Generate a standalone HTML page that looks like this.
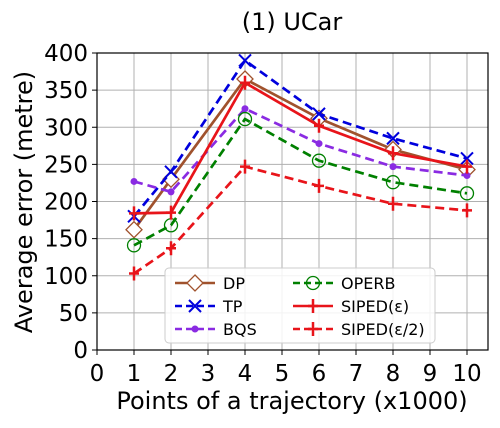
<!DOCTYPE html>
<html><head><meta charset="utf-8"><style>
body{margin:0;background:#fff;}
svg{font-family:"DejaVu Sans","Liberation Sans",sans-serif;}
</style></head><body>
<svg width="500" height="423" xmlns="http://www.w3.org/2000/svg">
<text x="292" y="30" font-size="24" text-anchor="middle">(1) UCar</text>
<g id="grid"></g>
<g id="series"></g>
<rect x="97" y="53" width="391" height="297" fill="none" stroke="#000" stroke-width="1.2"/>
<g id="ticks"></g>
<text x="292" y="409" font-size="24" text-anchor="middle">Points of a trajectory (x1000)</text>
<text transform="translate(32,202) rotate(-90)" font-size="24" text-anchor="middle">Average error (metre)</text>
<g id="legend">
<rect x="165" y="268" width="270" height="75" rx="4" fill="#fff" fill-opacity="0.85" stroke="#ccc"/>
</g>
</svg>
<script>
const xCats=[1,2,4,6,8,10];
const seriesNames=["DP","TP","BQS","OPERB","SIPED(\u03b5)","SIPED(\u03b5/2)"];
const dpVals=[162,230,365,312,270,243];
const tpVals=[180,240,390,318,285,258];
const bqsVals=[227,213,325,278,247,235];
const operbVals=[141,168,311,255,226,211];
const sipedVals=[184,185,360,302,265,247];
const siped2Vals=[103,137,247,221,197,188];
const xTicks=[0,1,2,3,4,5,6,7,8,9,10];
const yTicks=[0,50,100,150,200,250,300,350,400];
const NS="http://www.w3.org/2000/svg";
const X=v=>97+v*37, Y=v=>350-v*0.7425;
function mk(tag,at,parent){const e=document.createElementNS(NS,tag);for(const k in at)e.setAttribute(k,at[k]);parent.appendChild(e);return e;}
const grid=document.getElementById('grid'),ticks=document.getElementById('ticks'),ser=document.getElementById('series'),leg=document.getElementById('legend');
xTicks.forEach(t=>{
 const l=mk('line',{x1:X(t),x2:X(t),y1:53,y2:350,stroke:'#b0b0b0','stroke-width':1},grid);
 
 
 mk('line',{x1:X(t),x2:X(t),y1:350,y2:355,stroke:'#000'},ticks);
 const tx=mk('text',{x:X(t),y:381,'font-size':23,'text-anchor':'middle'},ticks);tx.textContent=t;
 
 
});
yTicks.forEach(t=>{
 const l=mk('line',{x1:97,x2:488,y1:Y(t),y2:Y(t),stroke:'#b0b0b0','stroke-width':1},grid);
 
 
 mk('line',{x1:92,x2:97,y1:Y(t),y2:Y(t),stroke:'#000'},ticks);
 const tx=mk('text',{x:88,y:Y(t)+8,'font-size':23,'text-anchor':'end'},ticks);tx.textContent=t;
 
 
});
const styles=[
 {c:'#a0522d',d:'',m:'diamond'},
 {c:'#0000dd',d:'9,5',m:'x'},
 {c:'#8a2be2',d:'9,5',m:'dot'},
 {c:'#008000',d:'9,5',m:'circle'},
 {c:'#e8141a',d:'',m:'plus'},
 {c:'#e8141a',d:'9,5',m:'plus'}];
function marker(m,x,y,c,p){
 if(m==='diamond')mk('path',{d:`M${x} ${y-8}L${x+8} ${y}L${x} ${y+8}L${x-8} ${y}Z`,fill:'#fff',stroke:c,'stroke-width':1.3},p);
 else if(m==='x')mk('path',{d:`M${x-6} ${y-6}L${x+6} ${y+6}M${x-6} ${y+6}L${x+6} ${y-6}`,stroke:c,'stroke-width':2},p);
 else if(m==='dot')mk('circle',{cx:x,cy:y,r:3.5,fill:c},p);
 else if(m==='circle')mk('circle',{cx:x,cy:y,r:6.5,fill:'none',stroke:c,'stroke-width':1.3},p);
 else mk('path',{d:`M${x-5} ${y}L${x+5} ${y}M${x} ${y-7}L${x} ${y+7}`,stroke:c,'stroke-width':2.5},p);
}
[dpVals,tpVals,bqsVals,operbVals,sipedVals,siped2Vals].forEach((vals,i)=>{
 const s=styles[i];
 const g=mk('g',{},ser);
 
 
 const pts=vals.map((v,j)=>X(xCats[j])+','+Y(v)).join(' ');
 mk('polyline',{points:pts,fill:'none',stroke:s.c,'stroke-width':2.7,'stroke-dasharray':s.d},g);
 vals.forEach((v,j)=>marker(s.m,X(xCats[j]),Y(v),s.c,g));
 const col=i<3?0:1,row=i%3;
 const lx=col?293:175, ly=283+row*23;
 const lg=mk('g',{},leg);
 
 
 mk('line',{x1:lx,x2:lx+40,y1:ly,y2:ly,stroke:s.c,'stroke-width':2.5,'stroke-dasharray':s.d?'7,4':''},lg);
 marker(s.m,lx+20,ly,s.c,lg);
 const t=mk('text',{x:lx+48,y:ly+6,'font-size':16},lg);t.textContent=seriesNames[i];
});
</script>
</body></html>
